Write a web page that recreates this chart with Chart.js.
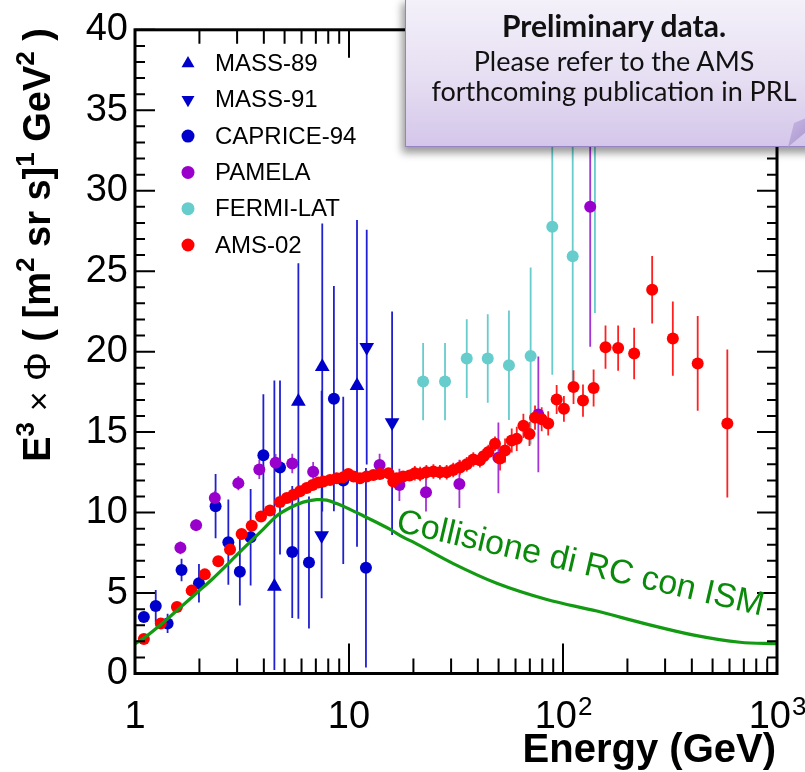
<!DOCTYPE html>
<html>
<head>
<meta charset="utf-8">
<script src="https://cdn.jsdelivr.net/npm/chart.js@4.4.1/dist/chart.umd.min.js"></script>
<style>
  html, body { margin: 0; padding: 0; background: #fff; }
  #wrap { position: relative; width: 805px; height: 772px; overflow: hidden; }
  #callout {
    position: absolute; left: 405px; top: -3px; width: 418px; height: 150px;
    box-sizing: border-box;
    border: 1.5px solid #9684c2;
    background: linear-gradient(#f4f1fa, #e6def2 55%, #d4c6ea);
    box-shadow: -3px 6px 8px rgba(0,0,0,0.4);
    font-family: Lato, "Open Sans", sans-serif; color: #111;
  }
  #callout .riga { position: absolute; left: 0; right: 0; text-align: center; font-size: 27px; line-height: 30px; white-space: nowrap; }
  #callout .bold { font-weight: bold; font-size: 30px; }
  #piega {
    position: absolute; left: 786px; top: 116px; width: 20px; height: 32px;
    background: linear-gradient(135deg, #cbbbe4, #a995cf);
    clip-path: polygon(2px 31px, 8px 7px, 20px 2px, 20px 16px);
  }
</style>
</head>
<body>
<div id="wrap">
  <canvas id="grafico" width="805" height="772"></canvas>
  <div id="callout">
    <div class="riga bold" style="top:12px">Preliminary data.</div>
    <div class="riga" style="top:48px">Please refer to the AMS</div>
    <div class="riga" style="top:78px">forthcoming publication in PRL</div>
  </div>
  <div id="piega"></div>
</div>
<script>
// MASS-89 (triangoli su)
const mass89E = [4.48, 5.8, 7.5, 10.9];
const mass89V = [5.41, 16.9, 19.06, 17.88];
const mass89Su = [12.8, 8.6, 8.9, 10.3];
const mass89Giu = [5.2, 13.5, 9.0, 10.0];

// MASS-91 (triangoli giu)
const mass91E = [7.45, 12.1, 15.9];
const mass91V = [8.57, 20.28, 15.6];
const mass91Su = [9.0, 7.3, 6.9];
const mass91Giu = [3.9, 7.3, 7.0];

// CAPRICE-94
const capriceE = [1.10, 1.25, 1.42, 1.65, 1.99, 2.38, 2.73, 3.09, 3.47, 3.98, 4.76, 5.43, 6.5, 8.5, 9.4, 12.0];
const capriceV = [3.51, 4.19, 3.11, 6.43, 5.61, 10.4, 8.16, 6.33, 8.47, 13.56, 12.8, 7.55, 6.9, 17.08, 12.0, 6.57];
const capriceErr = [0.3, 1.0, 0.6, 0.7, 1.2, 2.0, 2.65, 2.1, 3.0, 3.8, 5.4, 4.1, 4.1, 7.0, 5.2, 6.2];

// PAMELA
const pamelaE = [1.63, 1.93, 2.36, 3.04, 3.81, 4.54, 5.43, 6.8, 13.9, 17.2, 22.9, 32.8, 49.9, 76.7, 134];
const pamelaV = [7.81, 9.22, 10.9, 11.83, 12.68, 13.09, 13.05, 12.54, 12.95, 11.72, 11.26, 11.78, 13.4, 16.1, 29.0];
const pamelaErr = [0.4, 0.35, 0.45, 0.45, 0.6, 0.55, 0.6, 0.6, 0.7, 1.0, 1.2, 1.5, 2.2, 3.6, 8.7];

// FERMI-LAT
const fermiE = [22.2, 28.1, 35.5, 44.5, 55.9, 70.6, 89.1, 111, 141];
const fermiV = [18.14, 18.14, 19.57, 19.57, 19.16, 19.73, 27.76, 25.93, 33.5];
const fermiErr = [2.4, 2.4, 2.45, 2.75, 3.4, 5.5, 9.2, 8.1, 11.1];

// AMS-02
const amsE = [1.10, 1.32, 1.57, 1.84, 2.12, 2.45, 2.78, 3.15, 3.51, 3.88, 4.27, 4.76, 5.12, 5.50, 5.90, 6.34, 6.76,
  7.19, 7.59, 8.15, 8.76, 9.40, 9.93, 10.5, 11.25, 12.1, 13.0, 13.95, 15.3, 16.1, 16.7, 17.9, 19.2, 20.3, 21.5, 23.0,
  24.8, 26.6, 28.6, 30.7, 33.0, 35.5, 38.1, 40.9, 42.5, 44.8, 48.1, 50.8, 53.6, 57.6, 60.8, 65.3, 69.7, 74.0, 79.5,
  85.3, 93.4, 101, 112, 124, 139, 158, 181, 215, 261, 326, 426, 586];
const amsV = [2.15, 3.10, 4.13, 5.15, 6.16, 6.98, 7.71, 8.67, 9.18, 9.75, 10.13, 10.65, 10.91, 11.11, 11.32, 11.52, 11.72,
  11.87, 11.93, 12.03, 12.13, 12.19, 12.40, 12.24, 12.13, 12.24, 12.34, 12.40, 12.44, 11.93, 12.13, 12.24, 12.30, 12.45,
  12.40, 12.50, 12.55, 12.50, 12.50, 12.65, 12.80, 13.00, 13.30, 13.25, 13.50, 13.76, 14.27, 13.36, 13.86, 14.48, 14.58,
  15.39, 14.88, 15.90, 15.80, 15.54, 17.02, 16.45, 17.80, 16.96, 17.74, 20.28, 20.22, 19.88, 23.85, 20.81, 19.27, 15.54];
const amsErr = [0.25, 0.25, 0.25, 0.25, 0.25, 0.25, 0.25, 0.25, 0.25, 0.25, 0.25, 0.25, 0.25, 0.25, 0.25, 0.25, 0.25,
  0.25, 0.25, 0.25, 0.25, 0.25, 0.25, 0.25, 0.25, 0.25, 0.25, 0.25, 0.25, 0.25, 0.25, 0.25, 0.25, 0.45,
  0.45, 0.45, 0.45, 0.45, 0.45, 0.45, 0.45, 0.45, 0.45, 0.45, 0.45, 0.45, 0.45, 0.75, 0.75, 0.75, 0.75,
  0.75, 0.75, 0.75, 0.75, 0.75, 0.9, 0.8, 1.05, 1.0, 1.15, 1.35, 1.4, 1.6, 2.1, 2.3, 2.95, 4.6];

// curva "Collisione di RC con ISM"
const ismE = [1.0, 1.114, 1.356, 1.62, 1.94, 2.32, 2.78, 3.32, 3.98, 4.59, 5.3, 6.11, 7.06, 7.87, 8.76, 10.1, 11.7,
  13.5, 15.5, 17.9, 20, 30.7, 49, 84, 144, 246, 421, 671, 1000];
const ismV = [1.85, 2.25, 3.17, 4.08, 5.0, 5.92, 6.94, 7.96, 8.97, 9.79, 10.3, 10.65, 10.8, 10.77, 10.56, 10.2, 9.79,
  9.38, 8.97, 8.47, 8.16, 6.83, 5.61, 4.6, 3.88, 3.07, 2.35, 1.94, 1.85];

// etichette degli assi
const xTickVal = [1, 10, 100, 1000];
const xTickBase = ['1', '10', '10', '10'];
const xTickExp = ['', '', '2', '3'];

const FONT = '"Liberation Sans", Arial, sans-serif';

function punti(xs, ys) { return xs.map((x, i) => ({ x: x, y: ys[i] })); }

function serie(label, xs, ys, giu, su, col, colBarra, stile, rot, ordine) {
  return {
    label: label, data: punti(xs, ys), errLo: giu, errHi: su, barColor: colBarra,
    showLine: false, pointStyle: stile, pointRotation: rot,
    pointRadius: stile === 'triangle' ? 8.5 : 6,
    backgroundColor: col, borderColor: col, pointBorderWidth: 0, order: ordine
  };
}

// barre d'errore, sotto i marker
const barre = {
  id: 'barre',
  beforeDatasetsDraw(chart) {
    const { ctx, chartArea: a, scales: { x, y } } = chart;
    ctx.save();
    ctx.beginPath(); ctx.rect(a.left, a.top, a.right - a.left, a.bottom - a.top); ctx.clip();
    chart.data.datasets.forEach(ds => {
      if (!ds.errLo) return;
      ctx.strokeStyle = ds.barColor; ctx.lineWidth = 1.8;
      ctx.beginPath();
      ds.data.forEach((p, i) => {
        const px = x.getPixelForValue(p.x);
        ctx.moveTo(px, y.getPixelForValue(p.y - ds.errLo[i]));
        ctx.lineTo(px, y.getPixelForValue(p.y + ds.errHi[i]));
      });
      ctx.stroke();
    });
    ctx.restore();
  }
};

// cornice stile ROOT, tacche, titoli, legenda
const cornice = {
  id: 'cornice',
  afterDraw(chart) {
    const { ctx, chartArea: a, scales: { x, y } } = chart;
    ctx.save();
    ctx.strokeStyle = '#000'; ctx.fillStyle = '#000';
    ctx.lineWidth = 2;
    ctx.beginPath();
    for (let v = 0; v <= 40; v++) {
      const py = y.getPixelForValue(v);
      const l = v % 5 === 0 ? 20 : 10;
      ctx.moveTo(a.left, py); ctx.lineTo(a.left + l, py);
      ctx.moveTo(a.right, py); ctx.lineTo(a.right - l, py);
    }
    for (let d = 1; d < 1000; d *= 10) {
      for (let m = 1; m <= 10; m++) {
        const px = x.getPixelForValue(d * m);
        const big = m === 1 || m === 10;
        ctx.moveTo(px, a.bottom); ctx.lineTo(px, a.bottom - (big ? 30 : 15));
        ctx.moveTo(px, a.top); ctx.lineTo(px, a.top + (big ? 28 : 14));
      }
    }
    ctx.stroke();
    ctx.lineWidth = 3;
    ctx.strokeRect(a.left, a.top, a.right - a.left, a.bottom - a.top);

    // etichette asse x
    ctx.textBaseline = 'alphabetic';
    xTickVal.forEach((v, i) => {
      ctx.font = '38px ' + FONT;
      const wb = ctx.measureText(xTickBase[i]).width;
      ctx.font = '26px ' + FONT;
      const we = xTickExp[i] ? ctx.measureText(xTickExp[i]).width : 0;
      const x0 = x.getPixelForValue(v) - (wb + we) / 2;
      ctx.textAlign = 'left';
      ctx.font = '38px ' + FONT;
      ctx.fillText(xTickBase[i], x0, 728);
      if (xTickExp[i]) { ctx.font = '26px ' + FONT; ctx.fillText(xTickExp[i], x0 + wb + 1, 715); }
    });

    // titolo asse x
    ctx.font = 'bold 40px ' + FONT;
    ctx.textAlign = 'right';
    ctx.fillText('Energy (GeV)', a.right - 1, 762);

    // titolo asse y (ruotato)
    const pezzi = [
      ['E', 'bold 38px', 0], ['3', 'bold 26px', -16], [' ', 'bold 38px', 0], ['×', '34px', 0], [' ', 'bold 38px', 0],
      ['Φ', '36px', 0], [' ( [m', 'bold 38px', 0], ['2', 'bold 26px', -16], [' sr s]', 'bold 38px', 0],
      ['1', 'bold 26px', -16], [' GeV', 'bold 38px', 0], ['2', 'bold 26px', -16], [' )', 'bold 38px', 0]
    ];
    let tot = 0;
    pezzi.forEach(p => { ctx.font = p[1] + ' ' + FONT; tot += ctx.measureText(p[0]).width; });
    ctx.save();
    ctx.translate(50, 28 + tot);
    ctx.rotate(-Math.PI / 2);
    ctx.textAlign = 'left';
    let cx = 0;
    pezzi.forEach(p => {
      ctx.font = p[1] + ' ' + FONT;
      ctx.fillText(p[0], cx, p[2]);
      cx += ctx.measureText(p[0]).width;
    });
    ctx.restore();

    // scritta lungo la curva
    ctx.save();
    ctx.translate(395, 531);
    ctx.rotate(13 * Math.PI / 180);
    ctx.fillStyle = '#0a8a0a';
    ctx.font = '34px ' + FONT;
    ctx.textAlign = 'left';
    ctx.fillText('Collisione di RC con ISM', 0, 0);
    ctx.restore();

    // legenda
    let riga = 0;
    chart.data.datasets.forEach(ds => {
      if (ds.noLegend) return;
      const ly = 63.5 + riga * 36.3;
      ctx.fillStyle = ds.backgroundColor; ctx.strokeStyle = ds.backgroundColor;
      Chart.helpers.drawPoint(ctx, {
        pointStyle: ds.pointStyle, rotation: ds.pointRotation,
        radius: ds.pointStyle === 'triangle' ? 7.5 : 6.5, borderWidth: 0
      }, 188, ly);
      ctx.fillStyle = '#000';
      ctx.font = '24px ' + FONT;
      ctx.textAlign = 'left'; ctx.textBaseline = 'middle';
      ctx.fillText(ds.label, 215, ly + 1);
      riga++;
    });
    ctx.restore();
  }
};

const datasets = [
  serie('MASS-89', mass89E, mass89V, mass89Giu, mass89Su, '#0000cc', '#2020d0', 'triangle', 0, 6),
  serie('MASS-91', mass91E, mass91V, mass91Giu, mass91Su, '#0000cc', '#2020d0', 'triangle', 180, 5),
  serie('CAPRICE-94', capriceE, capriceV, capriceErr, capriceErr, '#0000cc', '#2020d0', 'circle', 0, 4),
  serie('PAMELA', pamelaE, pamelaV, pamelaErr, pamelaErr, '#9900cc', '#a333d6', 'circle', 0, 3),
  serie('FERMI-LAT', fermiE, fermiV, fermiErr, fermiErr, '#66cccc', '#66cccc', 'circle', 0, 2),
  serie('AMS-02', amsE, amsV, amsErr, amsErr, '#ff0000', '#ff2020', 'circle', 0, 1),
  {
    label: 'ISM', data: punti(ismE, ismV), noLegend: true, showLine: true, fill: false,
    borderColor: '#129a12', borderWidth: 3.2, pointRadius: 0, tension: 0.35, order: 0
  }
];

new Chart(document.getElementById('grafico'), {
  type: 'scatter',
  data: { datasets: datasets },
  options: {
    responsive: false, animation: false, events: [],
    layout: { padding: { left: 0, top: 19, right: 28, bottom: 0 } },
    plugins: { legend: { display: false }, tooltip: { enabled: false } },
    scales: {
      x: {
        type: 'logarithmic', min: 1, max: 1000,
        grid: { display: false, drawTicks: false }, border: { display: false },
        ticks: { display: false },
        afterFit: s => { s.height = 98.5; }
      },
      y: {
        type: 'linear', min: 0, max: 40,
        grid: { display: false, drawTicks: false }, border: { display: false },
        ticks: { stepSize: 5, padding: 7, color: '#000', font: { size: 38, family: FONT } },
        afterFit: s => { s.width = 135; }
      }
    }
  },
  plugins: [barre, cornice]
});
</script>
</body>
</html>
